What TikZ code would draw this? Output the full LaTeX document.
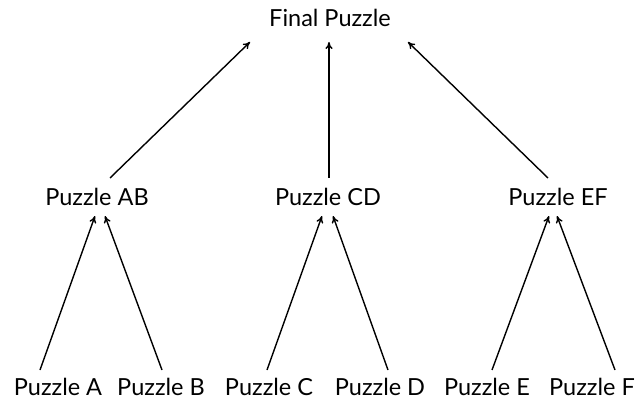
\documentclass[tikz,border=0pt]{standalone}
\usepackage{fontspec}
\setmainfont{Lato}
\usetikzlibrary{arrows.meta}
\begin{document}
\begin{tikzpicture}[x=1pt,y=-1pt,
  lbl/.style={inner sep=0pt,font=\fontsize{23.5}{27}\selectfont,anchor=base},
  arr/.style={-{To[length=7pt,width=7pt]},line width=1.4pt}]
\useasboundingbox (0,0) rectangle (636,403);
\node[lbl] (F) at (330,27) {Final Puzzle};
\node[lbl] (AB) at (97,205) {Puzzle AB};
\node[lbl] (CD) at (328,205) {Puzzle CD};
\node[lbl] (EF) at (558,205) {Puzzle EF};
\node[lbl] (A) at (58,395) {Puzzle A};
\node[lbl] (B) at (161,395) {Puzzle B};
\node[lbl] (C) at (269,395) {Puzzle C};
\node[lbl] (D) at (380,395) {Puzzle D};
\node[lbl] (E) at (487,395) {Puzzle E};
\node[lbl] (Fp) at (592,395) {Puzzle F};
\draw[arr] ([xshift=13pt,yshift=27pt]AB.base) -- ([xshift=-80pt,yshift=-15pt]F.base);
\draw[arr] ([xshift=1pt,yshift=27pt]CD.base) -- ([xshift=-1pt,yshift=-15pt]F.base);
\draw[arr] ([xshift=-10pt,yshift=27pt]EF.base) -- ([xshift=78pt,yshift=-15pt]F.base);
\draw[arr] ([xshift=-18pt,yshift=25pt]A.base) -- ([xshift=-2pt,yshift=-11pt]AB.base);
\draw[arr] ([xshift=1pt,yshift=25pt]B.base) -- ([xshift=8pt,yshift=-11pt]AB.base);
\draw[arr] ([xshift=-2pt,yshift=25pt]C.base) -- ([xshift=-6pt,yshift=-11pt]CD.base);
\draw[arr] ([xshift=8pt,yshift=25pt]D.base) -- ([xshift=5pt,yshift=-11pt]CD.base);
\draw[arr] ([xshift=5pt,yshift=25pt]E.base) -- ([xshift=-9pt,yshift=-11pt]EF.base);
\draw[arr] ([xshift=23pt,yshift=25pt]Fp.base) -- ([xshift=-1pt,yshift=-11pt]EF.base);
\end{tikzpicture}
\end{document}
